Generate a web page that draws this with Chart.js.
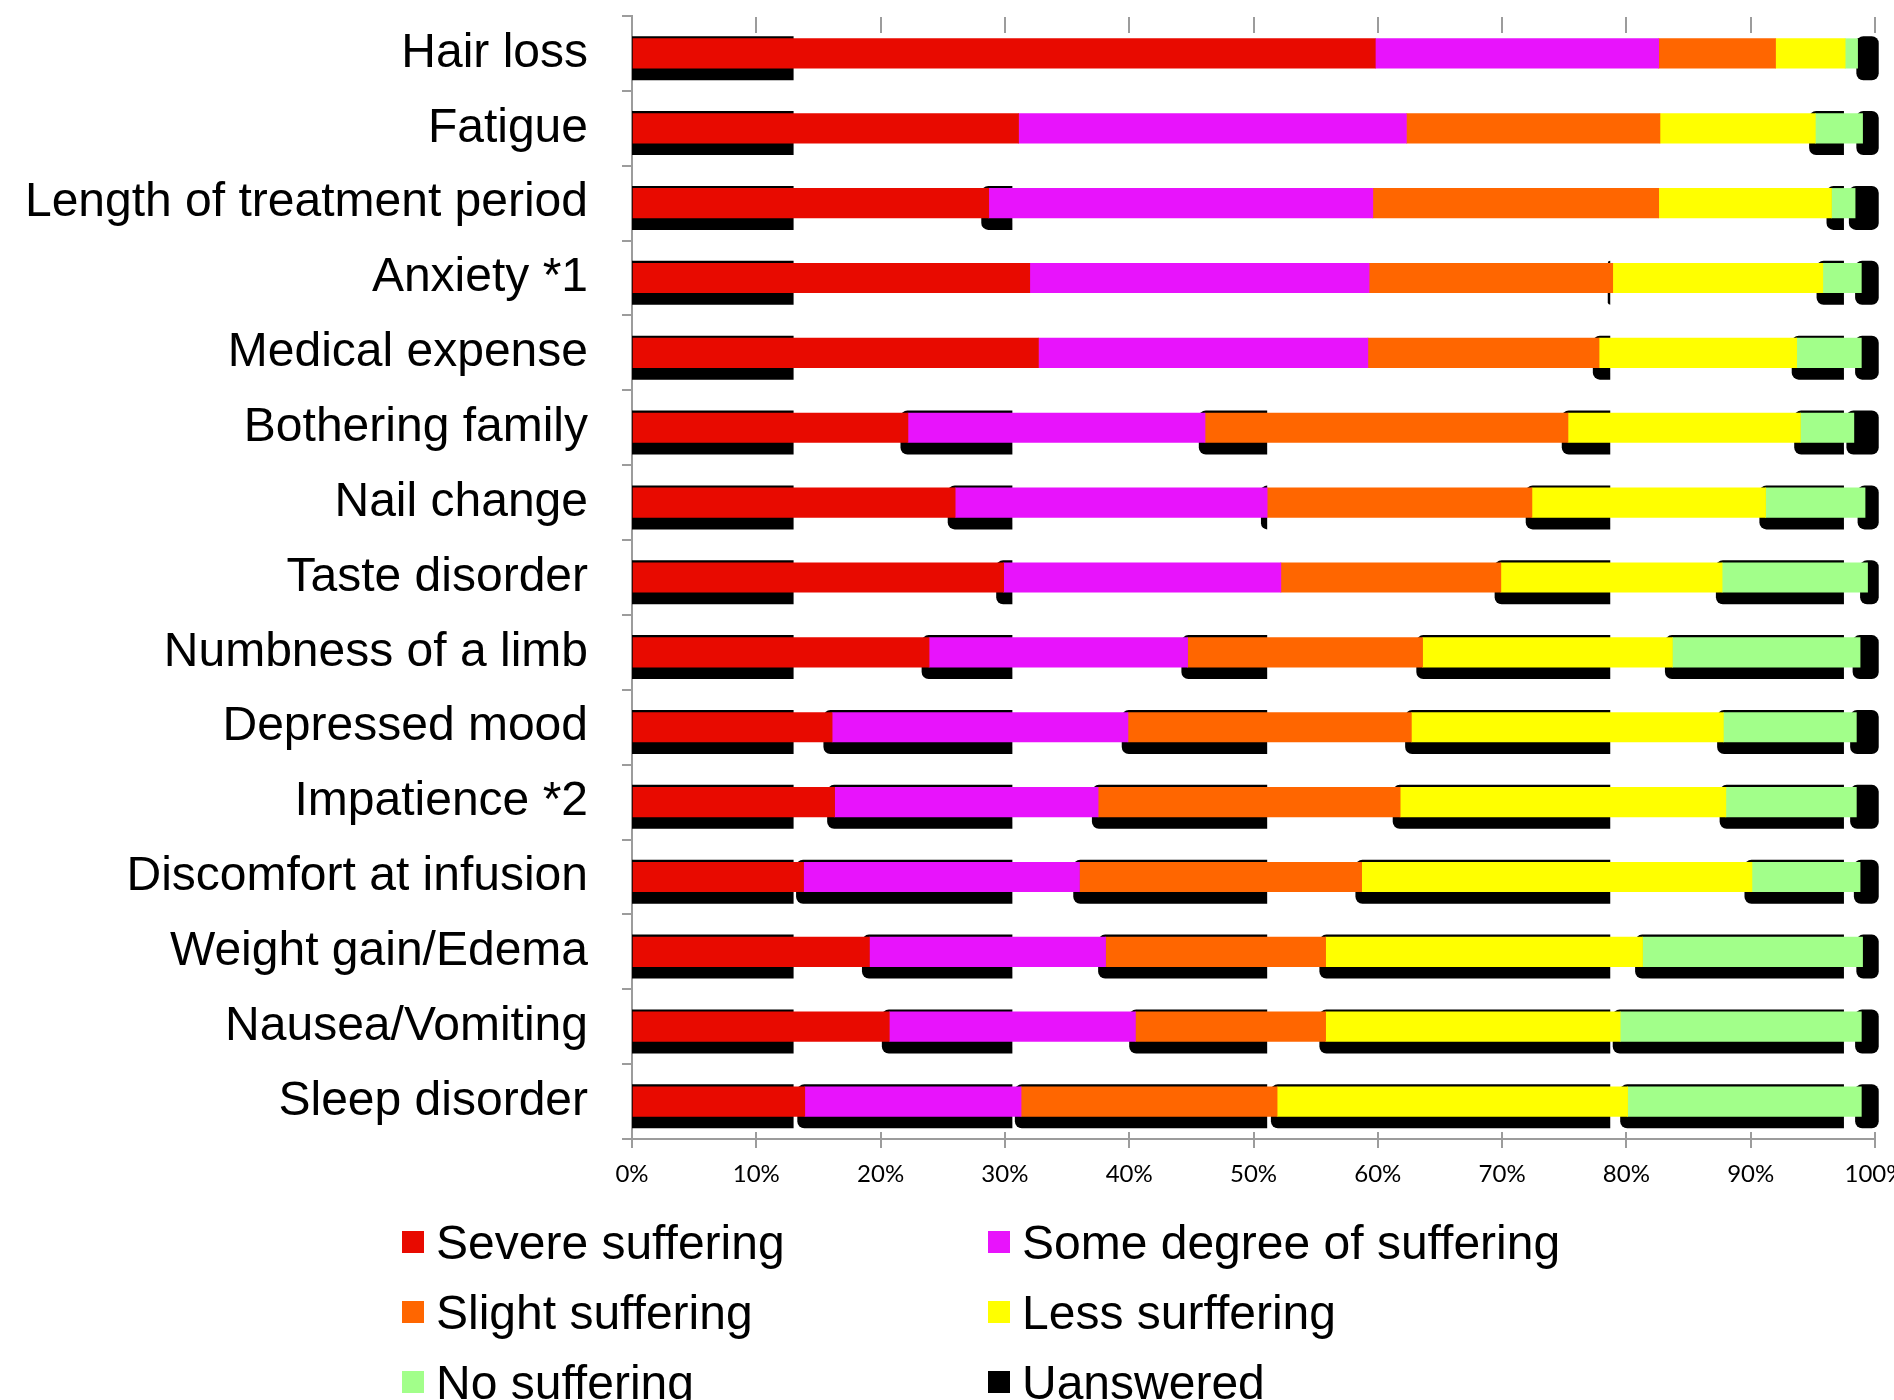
<!DOCTYPE html>
<html>
<head>
<meta charset="utf-8">
<script src="https://cdn.jsdelivr.net/npm/chart.js@4.4.1/dist/chart.umd.min.js"></script>
<style>
  html, body { margin: 0; padding: 0; background: #fff; overflow: hidden; }
  #wrap { position: relative; width: 1894px; height: 1400px; }
  #legend {
    position: absolute; left: 402px; top: 1207px;
    display: grid; grid-template-columns: 586px auto; grid-auto-rows: 70px;
    font-family: 'Liberation Sans', Arial, sans-serif; font-size: 48px; color: #000;
  }
  .item { display: flex; align-items: center; white-space: nowrap; }
  .swatch { width: 22px; height: 22px; margin-right: 12px; flex: none; }
</style>
</head>
<body>
<div id="wrap">
  <canvas id="chart"></canvas>
  <div id="legend"></div>
</div>
<script>
// Categories (top to bottom)
const categories = [
    'Hair loss', 'Fatigue', 'Length of treatment period', 'Anxiety *1',
    'Medical expense', 'Bothering family', 'Nail change', 'Taste disorder',
    'Numbness of a limb', 'Depressed mood', 'Impatience *2',
    'Discomfort at infusion', 'Weight gain/Edema', 'Nausea/Vomiting', 'Sleep disorder'
];

// Series values (% of respondents)
const severe     = [59.8, 31.1, 28.7, 32.0, 32.7, 22.2, 26.0, 29.9, 23.9, 16.1, 16.3, 13.8, 19.1, 20.7, 13.9];
const someDegree = [22.8, 31.2, 30.9, 27.3, 26.5, 23.9, 25.1, 22.3, 20.8, 23.8, 21.2, 22.2, 19.0, 19.8, 17.4];
const slight     = [ 9.4, 20.4, 23.0, 19.6, 18.6, 29.2, 21.3, 17.7, 18.9, 22.8, 24.3, 22.7, 17.7, 15.3, 20.6];
const less       = [ 5.6, 12.5, 13.9, 16.9, 15.9, 18.7, 18.8, 17.8, 20.1, 25.1, 26.2, 31.4, 25.5, 23.7, 28.2];
const noSuffer   = [ 1.0,  3.8,  1.9,  3.1,  5.2,  4.3,  8.0, 11.7, 15.1, 10.7, 10.5,  8.7, 17.7, 19.4, 18.8];
const unanswered = [ 1.4,  1.0,  1.6,  1.1,  1.1,  1.7,  0.8,  0.6,  1.2,  1.5,  1.5,  1.2,  1.0,  1.1,  1.1];

const seriesNames  = ['Severe suffering', 'Some degree of suffering', 'Slight suffering',
                      'Less surffering', 'No suffering', 'Uanswered'];
const seriesValues = [severe, someDegree, slight, less, noSuffer, unanswered];
const seriesColors = ['#e80a00', '#e813fc', '#ff6600', '#ffff00', '#a2ff8a', '#000000'];

// X axis ticks
const xTicks = [0, 10, 20, 30, 40, 50, 60, 70, 80, 90, 100];

// Black shadow bands seen behind the bars (value ranges, %)
const shadowSpans = [
    [[0, 13], [98.5, 100.3]],
    [[0, 13], [94.7, 97.5], [98.5, 100.3]],
    [[0, 13], [28.1, 30.6], [96.1, 97.5], [97.9, 100.3]],
    [[0, 13], [78.5, 78.7], [95.3, 97.5], [98.4, 100.3]],
    [[0, 13], [77.3, 78.7], [93.3, 97.5], [98.4, 100.3]],
    [[0, 13], [21.6, 30.6], [45.6, 51.1], [74.8, 78.7], [93.5, 97.5], [97.7, 100.3]],
    [[0, 13], [25.4, 30.6], [50.6, 51.1], [71.9, 78.7], [90.7, 97.5], [98.6, 100.3]],
    [[0, 13], [29.3, 30.6], [69.4, 78.7], [87.2, 97.5], [98.8, 100.3]],
    [[0, 13], [23.3, 30.6], [44.2, 51.1], [63.1, 78.7], [83.1, 97.5], [98.2, 100.3]],
    [[0, 13], [15.4, 30.6], [39.4, 51.1], [62.2, 78.7], [87.3, 97.5], [98.0, 100.3]],
    [[0, 13], [15.7, 30.6], [37.0, 51.1], [61.2, 78.7], [87.5, 97.5], [98.0, 100.3]],
    [[0, 13], [13.2, 30.6], [35.5, 51.1], [58.2, 78.7], [89.5, 97.5], [98.3, 100.3]],
    [[0, 13], [18.5, 30.6], [37.5, 51.1], [55.3, 78.7], [80.7, 97.5], [98.5, 100.3]],
    [[0, 13], [20.1, 30.6], [40.0, 51.1], [55.3, 78.7], [78.9, 97.5], [98.4, 100.3]],
    [[0, 13], [13.3, 30.6], [30.8, 51.1], [51.4, 78.7], [79.5, 97.5], [98.4, 100.3]]
];

const BAR_THICKNESS = 29.5;
const AXIS_GREY = '#9c9c9c';

// Shadows behind bars + inner tick marks
const shadowPlugin = {
    id: 'shadowBands',
    beforeDatasetsDraw(chart) {
        const { ctx, scales: { x, y } } = chart;
        const half = BAR_THICKNESS / 2;
        ctx.save();
        ctx.fillStyle = '#000';
        shadowSpans.forEach((spans, i) => {
            const cy = y.getPixelForValue(i);
            const top = cy - half - 2.5;
            const bottom = cy + half + 12;
            spans.forEach(([a, b]) => {
                const x1 = x.getPixelForValue(a);
                const x2 = x.getPixelForValue(b);
                const r = 7;
                const left = a > 0 ? r : 0;
                const right = b > 100 ? r : 0;
                ctx.beginPath();
                ctx.roundRect(x1, top, x2 - x1, bottom - top, [left, right, right, left]);
                ctx.fill();
            });
        });
        ctx.restore();
    },
    afterDraw(chart) {
        const { ctx, chartArea, scales: { x } } = chart;
        ctx.save();
        ctx.strokeStyle = AXIS_GREY;
        ctx.lineWidth = 2;
        ctx.beginPath();
        xTicks.forEach(v => {
            if (v === 0) return;
            const px = Math.round(x.getPixelForValue(v));
            ctx.moveTo(px, chartArea.top + 1);
            ctx.lineTo(px, chartArea.top + 17);
            ctx.moveTo(px, chartArea.bottom);
            ctx.lineTo(px, chartArea.bottom - 7);
        });
        ctx.stroke();
        ctx.restore();
    }
};

const datasets = seriesNames.map((name, i) => ({
    label: name,
    data: seriesValues[i],
    backgroundColor: seriesColors[i],
    borderWidth: 0,
    barThickness: BAR_THICKNESS
}));

new Chart(document.getElementById('chart'), {
    type: 'bar',
    data: { labels: categories, datasets: datasets },
    plugins: [shadowPlugin],
    options: {
        indexAxis: 'y',
        responsive: true,
        maintainAspectRatio: false,
        animation: false,
        layout: { padding: { left: 0, right: 19, top: 16, bottom: 181 } },
        plugins: {
            legend: { display: false },
            tooltip: { enabled: false }
        },
        scales: {
            x: {
                stacked: true,
                min: 0,
                max: 100,
                afterBuildTicks: scale => { scale.ticks = xTicks.map(v => ({ value: v })); },
                afterFit: scale => { scale.height = 80; scale.paddingLeft = 0; scale.paddingRight = 0; },
                ticks: {
                    callback: v => v + '%',
                    color: '#000',
                    font: { family: 'Lato', size: 24 },
                    padding: 12,
                    maxRotation: 0
                },
                grid: { drawOnChartArea: false, tickLength: 9, color: AXIS_GREY, lineWidth: 2 },
                border: { display: true, color: AXIS_GREY, width: 2 }
            },
            y: {
                stacked: true,
                afterFit: scale => { scale.width = 632; scale.paddingTop = 0; scale.paddingBottom = 0; },
                ticks: {
                    color: '#000',
                    font: { family: "'Liberation Sans', Arial", size: 48 },
                    padding: 34
                },
                grid: { drawOnChartArea: false, offset: true, tickLength: 10, color: AXIS_GREY, lineWidth: 2 },
                border: { display: true, color: AXIS_GREY, width: 2 }
            }
        }
    }
});

// Legend (two columns)
const legendEl = document.getElementById('legend');
seriesNames.forEach((name, i) => {
    const item = document.createElement('div');
    item.className = 'item';
    const sw = document.createElement('span');
    sw.className = 'swatch';
    sw.style.background = seriesColors[i];
    item.appendChild(sw);
    item.appendChild(document.createTextNode(name));
    legendEl.appendChild(item);
});
</script>
</body>
</html>
